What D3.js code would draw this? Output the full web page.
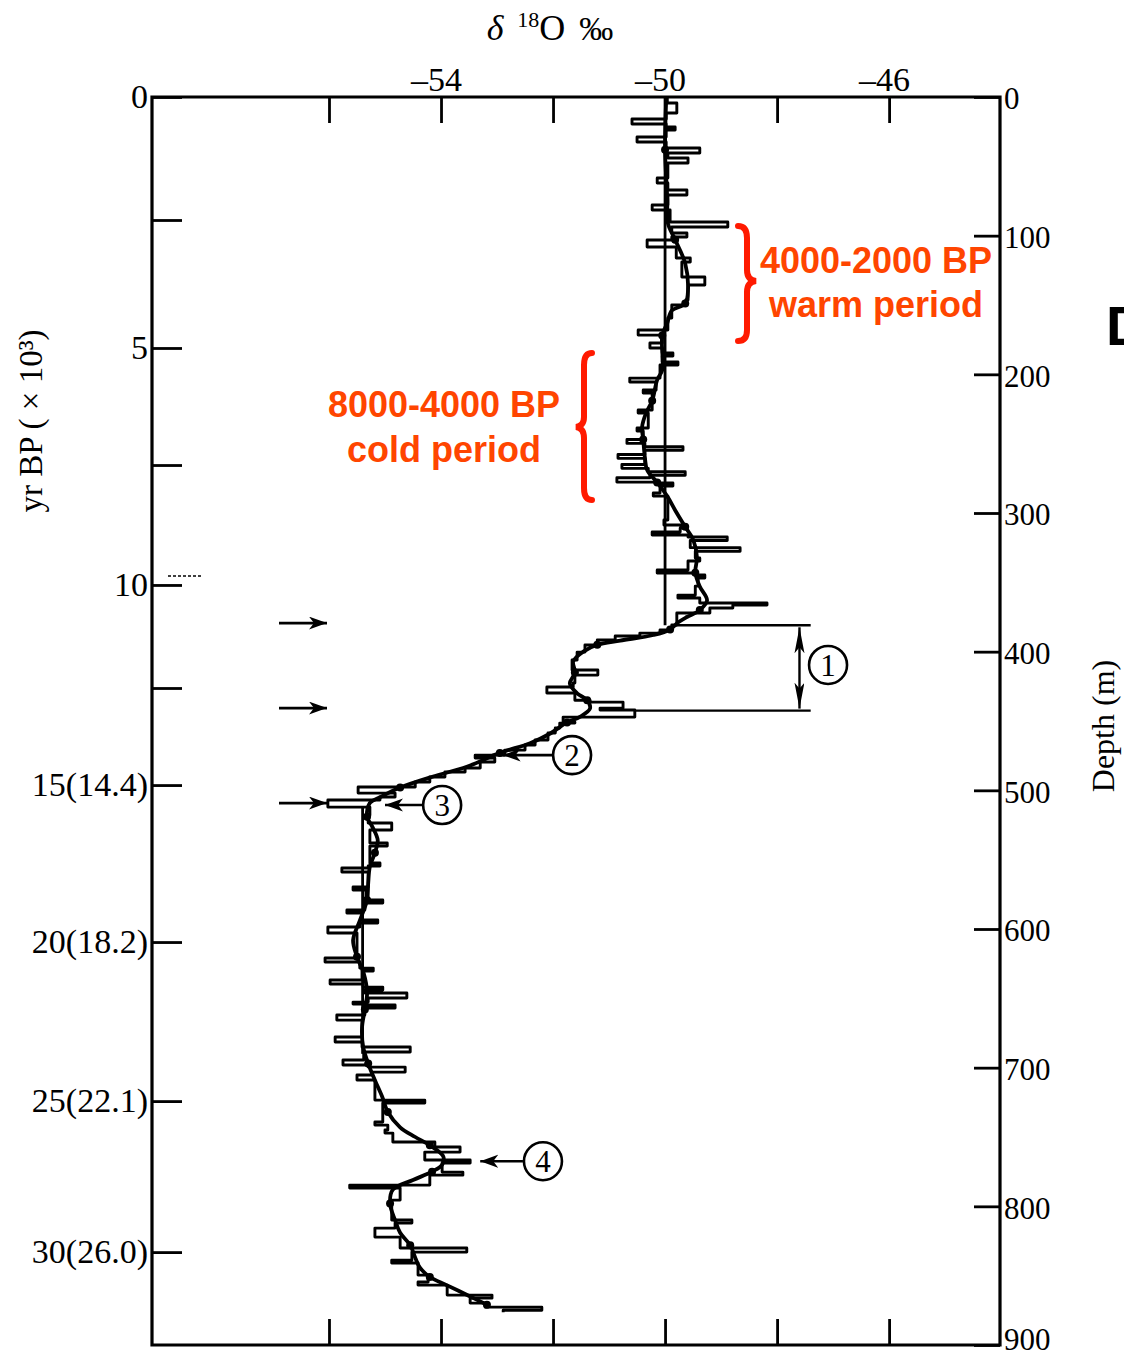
<!DOCTYPE html>
<html>
<head>
<meta charset="utf-8">
<script src="https://cdn.jsdelivr.net/npm/d3@7"></script>
<style>
  body { margin: 0; background: #fff; }
  svg { display: block; }
</style>
</head>
<body>
<svg id="chart"></svg>
<script>
// ---- data ----
// depth (m) where each raw step starts, and its d18O value (permil)
const rawDepth = [0, 4.3, 11.5, 15.9, 19.5, 21.6, 23.8, 28.8, 32.5, 36.8, 40.4, 44.0, 47.6, 58.4, 62.0, 67.1, 70.7, 77.9, 81.5, 90.1,
  93.8, 98.1, 101.0, 103.1, 108.2, 116.1, 119.0, 129.8, 135.6, 146.4, 150.0, 159.4, 168.0, 171.7, 177.4, 181.0, 184.6, 186.8, 191.1, 193.3,
  202.7, 205.5, 211.3, 213.5, 225.7, 227.9, 238.7, 240.9, 247.0, 249.8, 252.2, 254.8, 257.8, 260.6, 265.0, 267.8, 270.2, 272.8, 274.6, 277.7,
  278.4, 280.5, 285.6, 287.8, 305.1, 308.7, 310.8, 313.7, 315.9, 317.3, 319.8, 325.0, 327.6, 332.5, 334.6, 341.1, 343.3, 344.7, 346.9, 352.7,
  359.2, 361.3, 364.9, 366.4, 368.5, 372.1, 379.4, 380.8, 384.4, 386.6, 388.7, 391.6, 395.2, 400.3, 406.0, 413.2, 416.9, 422.6, 425.5, 429.8,
  435.0, 436.4, 440.7, 442.1, 447.2, 450.8, 451.5, 455.1, 458.7, 463.7, 467.3, 471.0, 474.6, 476.7, 479.6, 483.9, 486.8, 490.4, 494.0, 497.6,
  502.0, 504.8, 507.0, 512.1, 517.9, 523.6, 528.6, 538.0, 540.2, 552.4, 554.6, 556.0, 558.9, 569.7, 571.9, 579.1, 581.3, 586.3, 588.5, 593.5,
  595.7, 598.6, 602.9, 620.9, 623.8, 628.2, 630.3, 636.8, 639.7, 641.9, 644.0, 646.2, 649.8, 652.7, 654.1, 654.8, 657.0, 662.0, 665.7, 677.9,
  681.5, 685.1, 688.7, 694.5, 698.1, 699.6, 703.2, 705.3, 708.9, 723.4, 725.5, 739.2, 741.4, 745.0, 747.2, 753.6, 757.2, 760.9, 766.6, 768.8,
  775.3, 777.5, 784.7, 786.8, 795.5, 809.9, 812.1, 815.7, 822.2, 830.1, 833.0, 838.8, 840.9, 849.6, 854.6, 856.8, 864.0, 866.2, 869.8, 872.7,
  874.9, 876.3];
const rawD18O = [-49.96, -49.79, -49.98, -50.59, -49.98, -49.82, -49.98, -50.5, -49.98, -49.38, -49.95, -49.59, -49.95, -50.14, -49.95, -49.61, -49.95, -50.23, -49.91, -48.88,
  -49.88, -49.61, -49.88, -50.32, -49.8, -49.55, -49.7, -49.29, -49.59, -49.63, -49.88, -49.95, -50.48, -50.05, -50.27, -50.05, -49.86, -50.05, -49.77, -50.09,
  -50.63, -50.16, -50.39, -50.23, -50.48, -50.3, -50.5, -50.39, -50.68, -50.36, -49.68, -50.36, -50.84, -50.36, -50.77, -50.3, -49.64, -50.27, -50.86, -50.18,
  -49.86, -50.09, -50.21, -49.95, -50.02, -49.68, -49.73, -50.23, -49.59, -48.89, -49.55, -48.66, -49.46, -49.38, -49.59, -50.14, -49.46, -49.29, -49.41, -49.46,
  -49.77, -49.38, -48.18, -48.79, -49.2, -49.79, -49.79, -49.88, -50.09, -50.45, -50.89, -51.21, -51.43, -51.57, -51.66, -51.2, -51.61, -51.64, -52.11, -51.61,
  -51.34, -50.75, -51.16, -50.54, -51.82, -51.61, -51.88, -51.96, -52.09, -52.32, -52.5, -52.86, -53.39, -53.04, -53.3, -53.57, -53.93, -54.2, -54.46, -55.48,
  -54.82, -55.09, -56.02, -55.27, -55.3, -54.88, -55.27, -54.96, -55.27, -55.09, -55.3, -55.77, -55.3, -55.57, -55.34, -55.04, -55.36, -55.68, -55.41, -55.13,
  -55.45, -56.02, -55.5, -56.07, -55.45, -55.21, -55.41, -55.98, -55.39, -55.04, -55.36, -54.61, -55.3, -55.57, -55.34, -54.82, -55.36, -55.86, -55.41, -55.89,
  -55.41, -54.55, -55.38, -55.75, -55.3, -54.64, -55.23, -55.5, -55.18, -54.29, -55.04, -55.18, -54.95, -55.0, -54.86, -54.11, -53.66, -54.29, -53.48, -53.98,
  -53.61, -54.2, -55.63, -54.73, -54.88, -54.52, -54.82, -55.18, -54.73, -53.54, -54.52, -54.88, -54.41, -54.23, -54.41, -53.89, -53.09, -53.48, -53.21, -52.2,
  -52.89, -52.89];

// smoothed curve
const smoothDepth = [2, 38, 74, 91, 103, 120, 139, 149, 154, 163, 172, 197, 204, 219, 228, 238, 247, 260, 269, 278,
  288, 298, 310, 319, 332, 343, 353, 363, 370, 375, 379, 384, 388, 392, 395, 400, 407, 415, 423, 430,
  435, 441, 447, 451, 459, 466, 473, 483, 490, 498, 505, 509, 519, 526, 536, 545, 555, 567, 579, 594,
  608, 620, 632, 646, 658, 671, 685, 697, 709, 721, 732, 743, 750, 756, 764, 770, 775, 781, 788, 798,
  810, 819, 828, 837, 844, 851, 857, 865, 871];
const smoothD18O = [-49.98, -50.0, -49.96, -49.95, -49.82, -49.64, -49.59, -49.64, -49.88, -49.96, -50.05, -50.05, -50.14, -50.23, -50.34, -50.41, -50.39, -50.36, -50.32, -50.14,
  -49.96, -49.82, -49.64, -49.5, -49.43, -49.46, -49.38, -49.25, -49.38, -49.61, -49.77, -49.91, -50.21, -50.8, -51.21, -51.46, -51.64, -51.61, -51.7, -51.57,
  -51.39, -51.34, -51.52, -51.75, -52.05, -52.41, -52.95, -53.54, -54.14, -54.73, -55.09, -55.27, -55.32, -55.23, -55.13, -55.18, -55.27, -55.3, -55.32, -55.45,
  -55.57, -55.5, -55.38, -55.32, -55.36, -55.41, -55.39, -55.3, -55.18, -55.05, -54.95, -54.73, -54.46, -54.2, -53.96, -53.98, -54.16, -54.5, -54.86, -54.91,
  -54.82, -54.73, -54.55, -54.46, -54.38, -54.2, -53.89, -53.48, -53.18];

// mean reference lines: value, depth from, depth to
const refValue = [-50.0, -55.4];
const refFrom = [0, 512];
const refTo = [381, 690];

// age-depth model used for the left axis (kyr BP -> m)
const ageModelAge = [0, 2.5, 5, 7.5, 10, 12.5, 15, 20, 25, 30];
const ageModelDepth = [0, 88.7, 181.0, 265.4, 351.9, 426.2, 496.2, 609.4, 724.1, 833.0];
const ageLabels = {0: "0", 5: "5", 10: "10", 15: "15(14.4)", 20: "20(18.2)", 25: "25(22.1)", 30: "30(26.0)"};

const depthTicks = [0, 100, 200, 300, 400, 500, 600, 700, 800, 900];
const d18OTicks = [-56, -54, -52, -50, -48, -46];
const d18OLabels = {"-54": "\u201354", "-50": "\u201350", "-46": "\u201346"};

// marked events (depth of left arrows)
const eventDepths = [379.4, 440.7, 509.2];

// ---- layout ----
const width = 1124, height = 1358;
const pLeft = 152, pRight = 1000, pTop = 97, pBottom = 1345;
const serif = "'Liberation Serif', 'DejaVu Serif', serif";
const sans = "'Liberation Sans', Arial, sans-serif";

let svg = d3.select('#chart').attr('width', width).attr('height', height);
svg.append('rect').attr('width', width).attr('height', height).attr('fill', '#fff');

let defs = svg.append('defs');
defs.append('marker')
  .attr('id', 'head')
  .attr('markerUnits', 'userSpaceOnUse')
  .attr('markerWidth', 22).attr('markerHeight', 14)
  .attr('refX', 18).attr('refY', 6.5)
  .attr('orient', 'auto')
  .append('path').attr('d', 'M0,0 L18,6.5 L0,13 L5,6.5 Z').attr('fill', '#000');
defs.append('marker')
  .attr('id', 'longhead')
  .attr('markerUnits', 'userSpaceOnUse')
  .attr('markerWidth', 30).attr('markerHeight', 12)
  .attr('refX', 26).attr('refY', 5)
  .attr('orient', 'auto-start-reverse')
  .append('path').attr('d', 'M0,0 L26,5 L0,10 L6,5 Z').attr('fill', '#000');

let x = d3.scaleLinear().domain([-59.16, -44.02]).range([pLeft, pRight]);
let y = d3.scaleLinear().domain([0, 900]).range([pTop, pBottom]);
let yAge = d3.scaleLinear().domain(ageModelAge).range(ageModelDepth.map(y));

// ---- axes ----
let styleAxis = (size) => (g) => {
  g.select('.domain').remove();
  g.selectAll('.tick line').attr('stroke', '#000').attr('stroke-width', 2.8);
  g.selectAll('.tick text').attr('fill', '#000').style('font-family', serif).style('font-size', size + 'px');
};

svg.append('g')
  .attr('transform', `translate(0,${pTop})`)
  .call(d3.axisTop(x).tickValues(d18OTicks).tickSizeInner(-26).tickSizeOuter(0).tickPadding(6)
    .tickFormat(d => d18OLabels[d] || ''))
  .call(styleAxis(34))
  .selectAll('.tick text').attr('dx', -5);

svg.append('g')
  .attr('transform', `translate(0,${pBottom})`)
  .call(d3.axisBottom(x).tickValues(d18OTicks).tickSizeInner(-26).tickSizeOuter(0).tickFormat(''))
  .call(styleAxis(32));

svg.append('g')
  .attr('transform', `translate(${pLeft},0)`)
  .call(d3.axisLeft(yAge).tickValues(ageModelAge).tickSizeInner(-30).tickSizeOuter(0).tickPadding(4)
    .tickFormat(d => ageLabels[d] || ''))
  .call(styleAxis(34));

// depth labels sit a little below their ticks, except the last one at the page bottom
svg.append('g')
  .attr('transform', `translate(${pRight},0)`)
  .call(d3.axisRight(y).tickValues(depthTicks).tickSizeInner(-26).tickSizeOuter(0).tickPadding(4))
  .call(styleAxis(31))
  .selectAll('.tick text').attr('dy', d => d === 900 ? '0.15em' : '0.38em');

// frame
svg.append('path')
  .attr('d', `M${pLeft},${pTop} H${pRight} V${pBottom} H${pLeft} Z`)
  .attr('fill', 'none').attr('stroke', '#000').attr('stroke-width', 3.2);

// small dashed mark above the 10 kyr tick
svg.append('line')
  .attr('x1', pLeft + 16).attr('x2', pLeft + 50)
  .attr('y1', yAge(10) - 9).attr('y2', yAge(10) - 9)
  .attr('stroke', '#000').attr('stroke-width', 1.5).attr('stroke-dasharray', '3,2');

// axis titles
let title = svg.append('text')
  .attr('x', 550).attr('y', 40)
  .attr('text-anchor', 'middle')
  .style('font-family', serif).style('font-size', '36px').attr('fill', '#000');
title.append('tspan').style('font-style', 'italic').text('\u03b4');
title.append('tspan').attr('dx', 14).attr('dy', -13).style('font-size', '22px').text('18');
title.append('tspan').attr('dy', 13).text('O');
title.append('tspan').attr('dx', 14).style('font-size', '34px').text('\u2030');

svg.append('text')
  .attr('transform', 'translate(42,421) rotate(-90)')
  .attr('text-anchor', 'middle')
  .style('font-family', serif).style('font-size', '33px')
  .text('yr BP ( \u00d7 10\u00b3)');

svg.append('text')
  .attr('transform', 'translate(1114,726) rotate(-90)')
  .attr('text-anchor', 'middle')
  .style('font-family', serif).style('font-size', '32px')
  .text('Depth (m)');

// ---- reference (mean) lines ----
let plot = svg.append('g');
plot.selectAll('line.ref')
  .data(d3.range(refValue.length))
  .enter().append('line')
  .attr('class', 'ref')
  .attr('x1', i => x(refValue[i])).attr('x2', i => x(refValue[i]))
  .attr('y1', i => y(refFrom[i])).attr('y2', i => y(refTo[i]))
  .attr('stroke', '#000').attr('stroke-width', 2.8);

// ---- raw stepped profile ----
let raw = d3.zip(rawDepth, rawD18O);
let stepLine = d3.line()
  .x(d => x(d[1]))
  .y(d => y(d[0]))
  .curve(d3.curveStepBefore);
plot.append('path')
  .attr('d', stepLine(raw))
  .attr('fill', 'none')
  .attr('stroke', '#000')
  .attr('stroke-width', 2.9)
  .attr('stroke-linejoin', 'round');

// ---- smoothed curve ----
let smooth = d3.zip(smoothDepth, smoothD18O);
let smoothLine = d3.line()
  .x(d => x(d[1]))
  .y(d => y(d[0]))
  .curve(d3.curveCatmullRom.alpha(0.5));
plot.append('path')
  .attr('d', smoothLine(smooth))
  .attr('fill', 'none')
  .attr('stroke', '#000')
  .attr('stroke-width', 3.8);
plot.selectAll('circle.dot')
  .data(smooth.filter((d, i) => i % 3 === 1))
  .enter().append('circle')
  .attr('class', 'dot')
  .attr('cx', d => x(d[1])).attr('cy', d => y(d[0]))
  .attr('r', 4).attr('fill', '#000');

// ---- annotations ----
// left arrows marking events
svg.selectAll('line.evt')
  .data(eventDepths)
  .enter().append('line')
  .attr('class', 'evt')
  .attr('x1', 279).attr('x2', 327)
  .attr('y1', d => y(d)).attr('y2', d => y(d))
  .attr('stroke', '#000').attr('stroke-width', 2.8)
  .attr('marker-end', 'url(#head)');

// bracket for event 1
let d1a = 381, d1b = 442.5;
svg.append('line').attr('x1', x(-49.82)).attr('x2', x(-47.4)).attr('y1', y(d1a)).attr('y2', y(d1a))
  .attr('stroke', '#000').attr('stroke-width', 2.4);
svg.append('line').attr('x1', x(-50.54)).attr('x2', x(-47.4)).attr('y1', y(d1b)).attr('y2', y(d1b))
  .attr('stroke', '#000').attr('stroke-width', 2.4);
svg.append('line').attr('x1', x(-47.6)).attr('x2', x(-47.6)).attr('y1', y(d1a) + 2).attr('y2', y(d1b) - 2)
  .attr('stroke', '#000').attr('stroke-width', 2.4)
  .attr('marker-start', 'url(#longhead)').attr('marker-end', 'url(#longhead)');

// circled numbers with arrows: [label, depth, d18O of circle, arrow tip d18O]
const circled = [['1', 409.6, -47.09, null], ['2', 474.6, -51.66, -52.9], ['3', 510.6, -53.98, -55.0], ['4', 767.5, -52.18, -53.3]];
circled.forEach(c => {
  let cx = x(c[2]), cy = y(c[1]);
  svg.append('circle').attr('cx', cx).attr('cy', cy).attr('r', 19)
    .attr('fill', '#fff').attr('stroke', '#000').attr('stroke-width', 2.6);
  svg.append('text').attr('x', cx).attr('y', cy + 11).attr('text-anchor', 'middle')
    .style('font-family', serif).style('font-size', '31px').text(c[0]);
  if (c[3] !== null) {
    svg.append('line').attr('x1', cx - 20).attr('x2', x(c[3])).attr('y1', cy).attr('y2', cy)
      .attr('stroke', '#000').attr('stroke-width', 2.6).attr('marker-end', 'url(#head)');
  }
});

// red period labels
const red = '#ff4500';
svg.append('path')
  .attr('d', 'M738,226 Q747,226 747,238 L747,270 Q747,280 756,281 Q747,282 747,292 L747,330 Q747,341 738,341')
  .attr('fill', 'none').attr('stroke', '#ff1a00').attr('stroke-width', 6).attr('stroke-linecap', 'round');
svg.append('path')
  .attr('d', 'M592,353 Q584,353 584,365 L584,417 Q584,426 576,427 Q584,428 584,438 L584,488 Q584,500 592,500')
  .attr('fill', 'none').attr('stroke', '#ff1a00').attr('stroke-width', 6).attr('stroke-linecap', 'round');

let redText = (tx, ty, s) => svg.append('text')
  .attr('x', tx).attr('y', ty).attr('text-anchor', 'middle')
  .style('font-family', sans).style('font-weight', 'bold').style('font-size', '36px')
  .attr('fill', red).text(s);
redText(876, 273, '4000-2000 BP');
redText(876, 317, 'warm period');
redText(444, 417, '8000-4000 BP');
redText(444, 462, 'cold period');

// panel letter, cut by the page edge as in the source figure
svg.append('text').attr('x', 1106).attr('y', 345)
  .style('font-family', sans).style('font-weight', 'bold').style('font-size', '56px')
  .text('D');
</script>
</body>
</html>
